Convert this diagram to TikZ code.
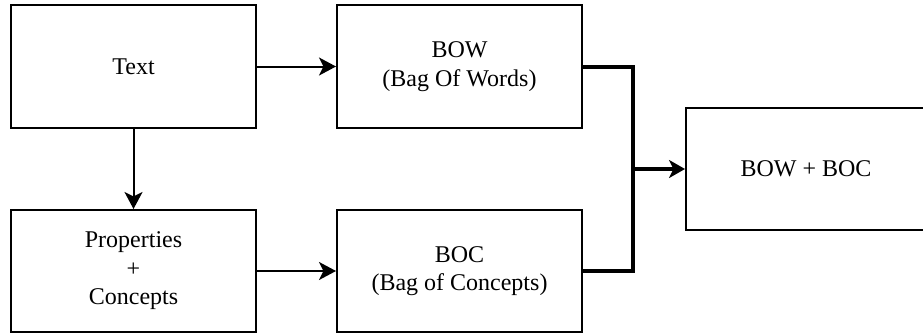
\documentclass[tikz,border=0pt]{standalone}
\usepackage{fontspec}
\setmainfont{Liberation Serif}
\usetikzlibrary{arrows.meta}
\begin{document}
\begin{tikzpicture}[x=1pt,y=-1pt,
  box/.style={draw, line width=2pt, rectangle, align=center, inner sep=0pt,
    font=\fontsize{24}{28.5}\selectfont},
  thinarrow/.style={line width=2pt, -{Stealth[length=17pt,width=18pt,inset=4.5pt]}},
  thickline/.style={line width=4pt},
  thickarrow/.style={line width=4pt, -{Stealth[length=16pt,width=18pt,inset=4.5pt]}}]
\useasboundingbox (0,0) rectangle (923,335);
\node[box, minimum width=245pt, minimum height=123pt] (text) at (133.5,66.5) {Text};
\node[box, minimum width=245pt, minimum height=123pt] (bow) at (459.5,66.5) {BOW\\(Bag Of Words)};
\node[box, minimum width=245pt, minimum height=122pt] (prop) at (133.5,271) {Properties\\+\\Concepts};
\node[box, minimum width=245pt, minimum height=122pt] (boc) at (459.5,271) {BOC\\(Bag of Concepts)};
\node[box, minimum width=240pt, minimum height=122pt] (res) at (806,169) {BOW + BOC};
\coordinate (j) at (633,169);
\draw[thinarrow] (text) -- (bow);
\draw[thinarrow] (text) -- (prop);
\draw[thinarrow] (prop) -- (boc);
\draw[thickline] (bow.east) -- (bow.east -| j) -- (boc.east -| j) -- (boc.east);
\draw[thickarrow] (j) -- (res.west);
\end{tikzpicture}
\end{document}
